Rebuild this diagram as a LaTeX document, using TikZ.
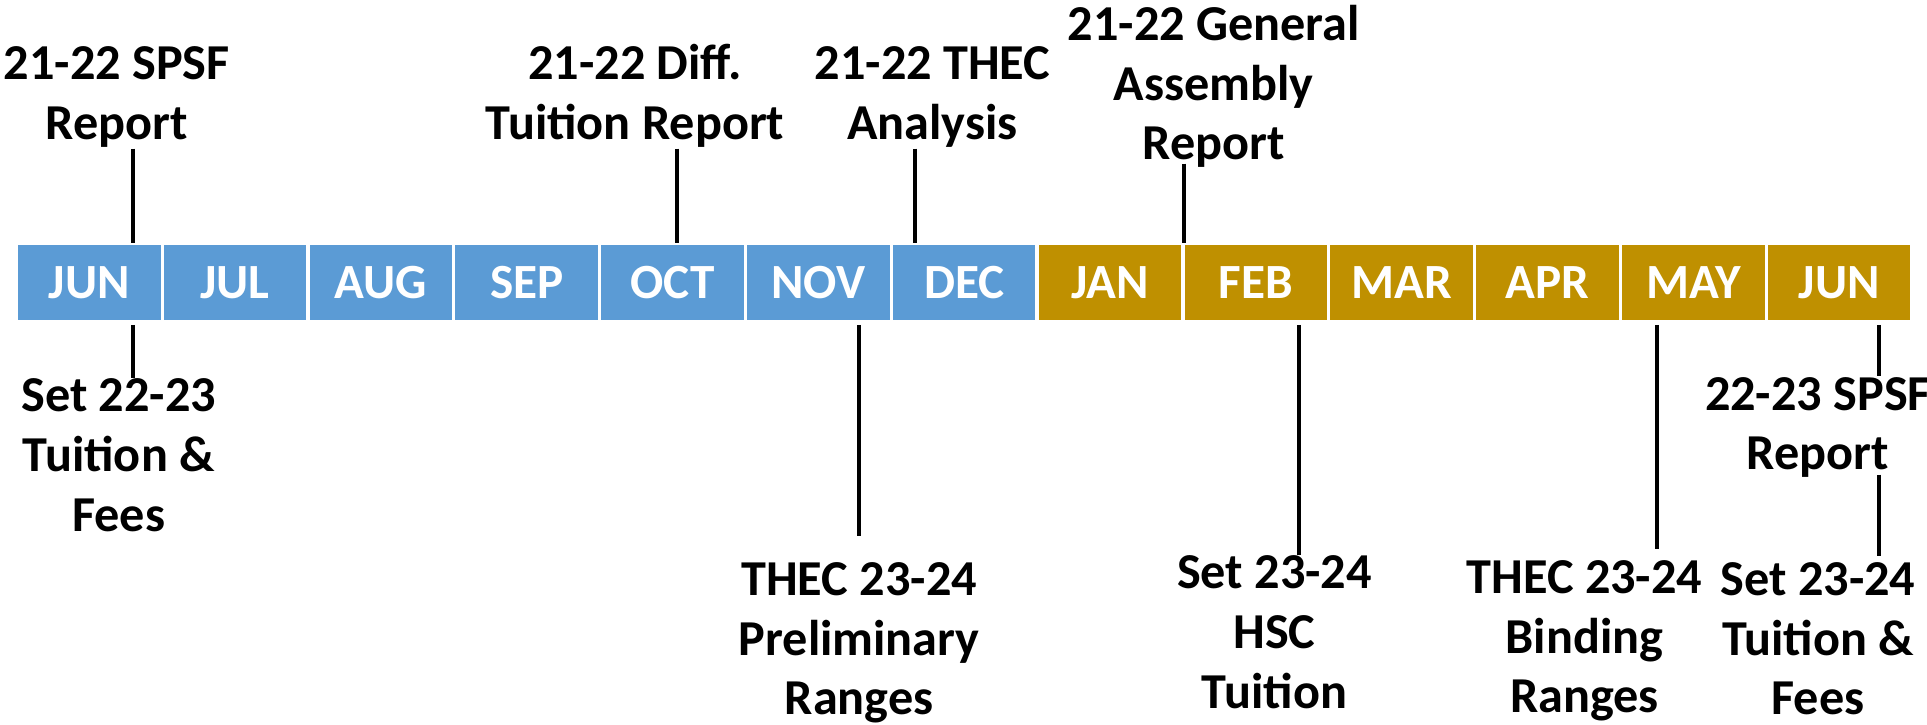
\documentclass[tikz,border=0pt]{standalone}
\usepackage{fontspec}
\setmainfont{Carlito}
\usepackage{tikz}
\usepackage{xcolor}
\usetikzlibrary{positioning}
\definecolor{FY_Blue}{HTML}{5B9BD5}
\definecolor{FY_Gold}{HTML}{BF9000}

\begin{document}
\begin{tikzpicture}[
    month/.style={fill=#1, text=white, minimum width=1.425cm, minimum height=0.75cm, inner sep=0pt, outer sep=0pt, font=\fontsize{14}{17}\selectfont\bfseries},
    event/.style={align=center, inner sep=0pt, anchor=base, font=\fontsize{14.3}{17.07}\selectfont\bfseries},
    tick/.style={line width=1.1pt}
]
    \useasboundingbox (0,0) rectangle (19.27,-7.25);

    % Months, first fiscal year
    \node[month=FY_Blue] (m1) at (0.8925,-2.825) {JUN};
    \node[month=FY_Blue, right=0.0333cm of m1] (m2) {JUL};
    \node[month=FY_Blue, right=0.0333cm of m2] (m3) {AUG};
    \node[month=FY_Blue, right=0.0333cm of m3] (m4) {SEP};
    \node[month=FY_Blue, right=0.0333cm of m4] (m5) {OCT};
    \node[month=FY_Blue, right=0.0333cm of m5] (m6) {NOV};
    \node[month=FY_Blue, right=0.0333cm of m6] (m7) {DEC};

    % Months, next calendar year
    \node[month=FY_Gold, right=0.0333cm of m7] (m8) {JAN};
    \node[month=FY_Gold, right=0.0333cm of m8] (m9) {FEB};
    \node[month=FY_Gold, right=0.0333cm of m9] (m10) {MAR};
    \node[month=FY_Gold, right=0.0333cm of m10] (m11) {APR};
    \node[month=FY_Gold, right=0.0333cm of m11] (m12) {MAY};
    \node[month=FY_Gold, right=0.0333cm of m12] (m13) {JUN};

    % Events above the bar (base = last line)
    \node[event] (spsfRep) at (1.168,-1.40) {21-22 SPSF\\Report};
    \node[event] (diffRep) at (6.35,-1.40) {21-22 Diff.\\Tuition Report};
    \node[event] (thecAna) at (9.325,-1.40) {21-22 THEC\\Analysis};
    \node[event] (gaRep) at (12.138,-1.60) {21-22 General\\Assembly\\Report};

    \draw[tick, shorten >=0.5pt] ([xshift=0.159cm]spsfRep.south) -- ([xshift=0.159cm]spsfRep.south |- m1.north);
    \draw[tick, shorten >=0.5pt] ([xshift=0.417cm]diffRep.south) -- ([xshift=0.417cm]diffRep.south |- m5.north);
    \draw[tick, shorten >=0.5pt] ([xshift=-0.172cm]thecAna.south) -- ([xshift=-0.172cm]thecAna.south |- m7.north);
    \draw[tick, shorten >=0.5pt, shorten <=-0.05cm] ([xshift=-0.295cm]gaRep.south) -- ([xshift=-0.295cm]gaRep.south |- m8.north);

    % Events below the bar
    \node[event] (setFees) at (1.188,-5.317) {Set 22-23\\Tuition \&\\Fees};
    \node[event] (thecPrelim) at (8.592,-7.15) {THEC 23-24\\Preliminary\\Ranges};
    \node[event] (setHsc) at (12.745,-7.083) {Set 23-24\\HSC\\Tuition};
    \node[event] (thecBind) at (15.845,-7.13) {THEC 23-24\\Binding\\Ranges};
    \node[event] (spsfNext) at (18.18,-4.70) {22-23 SPSF\\Report};
    \node[event] (setFeesNext) at (18.18,-7.15) {Set 23-24\\Tuition \&\\Fees};

    \draw[tick, shorten <=1.4pt] ([xshift=0.139cm]setFees.north |- m1.south) -- ([xshift=0.139cm]setFees.north);
    \draw[tick, shorten <=1.4pt, shorten >=0.25cm] (thecPrelim.north |- m6.south) -- (thecPrelim.north);
    \draw[tick, shorten <=1.4pt] ([xshift=0.248cm]setHsc.north |- m9.south) -- ([xshift=0.248cm]setHsc.north);
    \draw[tick, shorten <=1.4pt, shorten >=0.1cm] ([xshift=0.725cm]thecBind.north |- m12.south) -- ([xshift=0.725cm]thecBind.north);
    \draw[tick, shorten <=1.4pt] ([xshift=0.61cm]spsfNext.north |- m13.south) -- ([xshift=0.61cm]spsfNext.north);
    \draw[tick, shorten <=-0.04cm, shorten >=0.05cm] ([xshift=0.61cm]spsfNext.south) -- ([xshift=0.61cm]setFeesNext.north);

\end{tikzpicture}
\end{document}
